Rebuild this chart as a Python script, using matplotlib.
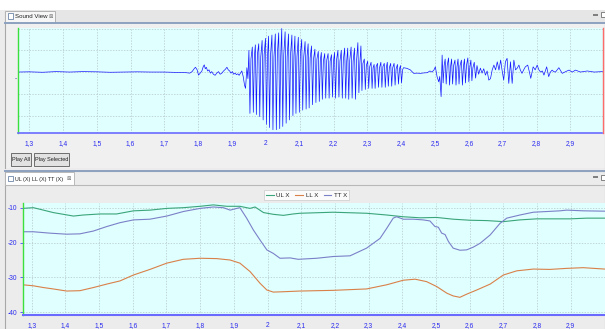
import matplotlib.pyplot as plt
from matplotlib.patches import Rectangle
from matplotlib.lines import Line2D
from matplotlib.ticker import FuncFormatter

# sound wave (seconds, amplitude in grid units)
quiet_t = [1.267, 1.30, 1.34, 1.38, 1.42, 1.46, 1.50, 1.54, 1.58, 1.62, 1.66, 1.70, 1.74]
quiet_a = [0.0, 0.01, -0.01, 0.02, 0.0, 0.02, 0.01, -0.01, 0.0, 0.01, 0.0, 0.0, -0.02]

onset_t = [1.765, 1.775, 1.782, 1.788, 1.792, 1.797, 1.801, 1.806, 1.811, 1.815,
           1.818, 1.821, 1.824, 1.828, 1.832, 1.836, 1.840, 1.845, 1.850, 1.855,
           1.860, 1.865, 1.870, 1.875, 1.880, 1.885, 1.889, 1.893, 1.897, 1.901,
           1.905, 1.909, 1.913, 1.917, 1.921, 1.925, 1.929, 1.933, 1.937, 1.940,
           1.944, 1.947]
onset_a = [-0.03, -0.05, 0.02, 0.15, 0.22, 0.1, -0.14, -0.05, 0.05, 0.25,
           0.33, 0.15, 0.22, 0.05, 0.1, -0.05, 0.02, -0.1, -0.15, -0.05,
           0.02, -0.1, -0.05, 0.05, 0.12, 0.22, 0.1, 0.05, -0.05, 0.02,
           -0.1, -0.05, -0.12, -0.08, -0.15, -0.05, 0.05, -0.2, -0.6, -0.75,
           0.2, -0.3]

vowel_t = [1.950, 1.953, 1.956, 1.960, 1.963, 1.966, 1.969, 1.972, 1.975,
           1.979, 1.982, 1.985, 1.989, 1.992, 1.995, 1.999, 2.002, 2.005,
           2.008, 2.011, 2.014, 2.018, 2.021, 2.024, 2.028, 2.031, 2.034,
           2.038, 2.041, 2.044, 2.047, 2.050, 2.053, 2.057, 2.060, 2.063,
           2.067, 2.070, 2.073, 2.077, 2.080, 2.083, 2.086, 2.089, 2.092,
           2.096, 2.099, 2.102, 2.106, 2.109, 2.112, 2.116, 2.119, 2.122,
           2.125, 2.128, 2.131, 2.135, 2.138, 2.141, 2.145, 2.148, 2.151,
           2.155, 2.158, 2.161, 2.164, 2.167, 2.170, 2.174, 2.177, 2.180,
           2.184, 2.187, 2.190, 2.194, 2.197, 2.200, 2.203, 2.206, 2.209,
           2.213, 2.216, 2.219, 2.223, 2.226, 2.229, 2.233, 2.236, 2.239,
           2.242, 2.245, 2.248, 2.252, 2.255, 2.258, 2.262, 2.265, 2.268,
           2.272, 2.275, 2.278, 2.281, 2.284, 2.287, 2.291, 2.294, 2.297,
           2.301, 2.304, 2.307, 2.311, 2.314, 2.317, 2.320, 2.323, 2.326,
           2.330, 2.333, 2.336, 2.340, 2.343, 2.346, 2.350, 2.353, 2.356,
           2.359, 2.362, 2.365, 2.369, 2.372, 2.375, 2.379, 2.382, 2.385,
           2.389, 2.392, 2.395, 2.398, 2.401, 2.404]
vowel_a = [1.0, -1.9, 0.6, 1.15, -1.85, 0.7, 1.25, -1.95, 0.8,
           1.3, -2.05, 0.7, 1.45, -2.2, 0.8, 1.55, -2.4, 0.75,
           1.65, -2.55, 0.8, 1.7, -2.65, 0.7, 1.75, -2.65, 0.8,
           1.8, -2.6, 0.75, 2.0, -2.5, 0.8, 1.85, -2.35, 0.7,
           1.75, -2.2, 0.8, 1.7, -2.0, 0.75, 1.65, -1.9, 0.7,
           1.6, -1.85, 0.8, 1.5, -1.75, 0.7, 1.4, -1.7, 0.75,
           1.3, -1.65, 0.65, 1.2, -1.5, 0.6, 1.05, -1.4, 0.6,
           0.95, -1.35, 0.55, 0.9, -1.25, 0.5, 0.85, -1.2, 0.55,
           0.85, -1.2, 0.5, 0.8, -1.15, 0.5, 0.9, -1.2, 0.55,
           1.0, -1.15, 0.5, 1.0, -1.2, 0.55, 1.1, -1.2, 0.5,
           1.1, -1.25, 0.55, 1.15, -1.2, 0.5, 1.1, -1.25, 0.5,
           1.35, -0.95, 0.45, 1.2, -0.85, 0.4, 0.6, -0.8, 0.3,
           0.5, -0.75, 0.25, 0.45, -0.75, 0.2, 0.35, -0.75, 0.25,
           0.4, -0.7, 0.2, 0.45, -0.7, 0.25, 0.4, -0.7, 0.2,
           0.45, -0.65, 0.2, 0.4, -0.65, 0.2, 0.4, -0.6, 0.15,
           0.35, -0.55, 0.15, 0.3, -0.5, 0.1]

gap_t = [2.407, 2.417, 2.427, 2.437, 2.447, 2.457, 2.467, 2.477, 2.485, 2.491,
         2.497, 2.501, 2.506, 2.511, 2.514, 2.518]
gap_a = [0.2, 0.17, 0.1, -0.06, -0.05, -0.06, -0.04, -0.03, 0.05, 0.0,
         0.1, 0.24, -0.21, -0.45, -0.2, -1.13]

burst_t = [2.521, 2.524, 2.527, 2.530, 2.533, 2.536, 2.540, 2.543, 2.546,
           2.549, 2.552, 2.555, 2.559, 2.562, 2.565, 2.568, 2.571, 2.574,
           2.578, 2.581, 2.584, 2.587, 2.590, 2.593, 2.597, 2.600, 2.603,
           2.606, 2.609, 2.612]
burst_a = [0.78, -0.5, 0.3, 0.6, -0.55, 0.3, 0.65, -0.6, 0.25,
           0.6, -0.55, 0.3, 0.55, -0.6, 0.25, 0.6, -0.55, 0.3,
           0.55, -0.6, 0.25, 0.6, -0.5, 0.3, 0.65, -0.45, 0.25,
           0.55, -0.4, 0.2]

tail_t = [2.616, 2.620, 2.624, 2.629, 2.634, 2.639, 2.644, 2.649, 2.654, 2.659,
          2.664, 2.669, 2.674, 2.679, 2.684, 2.689, 2.694, 2.698, 2.703, 2.708,
          2.713, 2.718, 2.723, 2.728, 2.733, 2.738, 2.743, 2.748, 2.752, 2.757,
          2.762, 2.767, 2.774, 2.779, 2.783, 2.790, 2.796, 2.802, 2.807, 2.812,
          2.817, 2.822, 2.830, 2.836, 2.841, 2.846, 2.851, 2.856, 2.866, 2.876,
          2.886, 2.896, 2.906, 2.915, 2.930, 2.950, 2.970, 2.995]
tail_a = [0.45, -0.28, 0.3, -0.1, 0.18, -0.05, 0.15, -0.14, 0.05, -0.37,
          -0.3, 0.1, 0.32, 0.1, 0.47, 0.09, 0.55, 0.1, -0.37, 0.47,
          0.63, -0.52, 0.47, -0.52, 0.55, 0.1, 0.18, 0.32, 0.1, -0.06,
          0.1, 0.24, 0.32, 0.0, -0.29, 0.24, 0.1, 0.32, 0.1, 0.0,
          0.05, -0.14, 0.24, -0.21, 0.0, 0.09, 0.02, 0.0, 0.2, -0.06,
          0.02, 0.09, 0.0, 0.09, 0.0, 0.05, 0.0, 0.02]

# articulator traces
ul_t = [1.273, 1.305, 1.335, 1.364, 1.394, 1.424, 1.453, 1.503, 1.552, 1.602,
        1.651, 1.701, 1.750, 1.800, 1.839, 1.879, 1.918, 1.948, 1.963, 1.988,
        2.017, 2.047, 2.076, 2.096, 2.195, 2.294, 2.354, 2.403, 2.453, 2.502,
        2.551, 2.601, 2.651, 2.700, 2.749, 2.799, 2.848, 2.898, 2.947, 3.001]
ul_x = [-10.2, -10.0, -10.7, -11.4, -11.9, -12.4, -12.1, -11.8, -11.8, -10.9,
        -10.7, -10.2, -10.0, -9.6, -9.2, -9.6, -9.6, -10.2, -9.8, -11.4,
        -11.9, -12.2, -11.8, -11.6, -11.3, -11.6, -12.1, -12.6, -12.9, -12.8,
        -13.3, -13.6, -13.7, -14.0, -13.5, -13.2, -13.2, -13.2, -13.0, -13.0]

ll_t = [1.273, 1.305, 1.335, 1.364, 1.404, 1.443, 1.483, 1.523, 1.562, 1.602,
        1.651, 1.701, 1.750, 1.800, 1.849, 1.889, 1.918, 1.948, 1.978, 1.998,
        2.017, 2.047, 2.096, 2.195, 2.294, 2.354, 2.403, 2.438, 2.472, 2.502,
        2.532, 2.551, 2.571, 2.591, 2.621, 2.661, 2.700, 2.740, 2.789, 2.838,
        2.888, 2.937, 3.001]
ll_x = [-32.1, -32.4, -32.9, -33.3, -33.9, -33.8, -32.9, -31.9, -31.0, -29.3,
        -27.7, -25.9, -24.8, -24.5, -24.6, -25.0, -25.9, -28.3, -31.7, -33.6,
        -34.2, -34.1, -33.9, -33.7, -33.3, -32.1, -30.8, -30.5, -31.2, -32.6,
        -34.5, -35.3, -35.7, -34.8, -33.6, -31.9, -29.3, -28.1, -27.6, -27.7,
        -27.4, -27.2, -27.6]

tt_t = [1.273, 1.305, 1.354, 1.404, 1.443, 1.483, 1.523, 1.562, 1.602, 1.651,
        1.701, 1.750, 1.800, 1.839, 1.869, 1.889, 1.909, 1.918, 1.938, 1.958,
        1.978, 1.998, 2.017, 2.037, 2.067, 2.091, 2.146, 2.195, 2.245, 2.294,
        2.334, 2.354, 2.373, 2.383, 2.403, 2.433, 2.462, 2.482, 2.497, 2.507,
        2.517, 2.527, 2.537, 2.551, 2.571, 2.591, 2.611, 2.631, 2.661, 2.690,
        2.710, 2.749, 2.789, 2.829, 2.868, 2.888, 2.937, 3.001]
tt_x = [-16.9, -16.9, -17.3, -17.6, -17.5, -16.7, -15.4, -14.3, -13.5, -13.3,
        -12.4, -11.1, -10.2, -9.8, -10.0, -10.7, -10.2, -10.0, -13.0, -16.4,
        -19.3, -22.1, -23.1, -24.5, -24.4, -24.8, -24.5, -24.0, -23.8, -21.6,
        -18.8, -15.9, -13.0, -12.6, -13.3, -13.3, -13.5, -13.8, -15.4, -15.6,
        -17.3, -17.7, -19.7, -21.6, -22.2, -22.1, -21.3, -20.2, -17.8, -14.5,
        -13.0, -12.1, -11.3, -11.1, -10.9, -10.7, -10.9, -11.0]

time_ticks = [1.3, 1.4, 1.5, 1.6, 1.7, 1.8, 1.9, 2.0, 2.1, 2.2, 2.3, 2.4, 2.5, 2.6, 2.7, 2.8, 2.9]
wave_grid = [-2, -1, 0, 1, 2]
pos_ticks = [-10, -20, -30, -40]

W, H = 605, 329
BG = '#ececec'
PLOT_BG = '#e0ffff'
BLUE_TXT = '#2b2bf0'
GRID = '#b4c6c6'
plt.rcParams['font.family'] = ['Liberation Sans', 'DejaVu Sans']

fig = plt.figure(figsize=(W / 100, H / 100), dpi=100)
fig.patch.set_facecolor(BG)


def rect(x, y, w, h):
    return [x / W, 1 - (y + h) / H, w / W, h / H]


def box(x, y, w, h, fc, ec='none', lw=0.8, z=-5):
    fig.patches.append(Rectangle((x / W, 1 - (y + h) / H), w / W, h / H,
                                 transform=fig.transFigure, facecolor=fc,
                                 edgecolor=ec, linewidth=lw, zorder=z))


def hline(y, x0, x1, color, lw=1.0):
    fig.add_artist(Line2D([x0 / W, x1 / W], [1 - y / H, 1 - y / H], color=color, lw=lw, zorder=-4))


def comma(v, pos):
    return f'{v:g}'.replace('.', ',')


# window chrome
box(0, 0, W, 10, 'white')
box(5, 10.5, 600, 158, '#f0f0f0', '#a8a8a8', 0.8)
box(5, 10.5, 600, 12, '#e6e6e6')
box(5, 11, 50, 11.5, '#f6f6f6', '#a8a8a8', 0.6, z=-4.5)
hline(22.8, 5, W, '#8da2c0', 1.4)
box(8, 13.5, 5, 5.5, 'white', '#6d86a8', 0.6, z=-4)
fig.text(15 / W, 1 - 17 / H, 'Sound View', fontsize=4.4, va='center', color='#202020')
fig.text(50.5 / W, 1 - 16.8 / H, '\u22a0', fontsize=3.8, va='center', ha='center',
         color='#707070', family='DejaVu Sans')
box(593, 13.5, 5, 2, '#808080', z=-4)
box(601, 12, 5, 5, 'white', '#707070', 0.6, z=-4)

box(0, 168.5, W, 3, BG)
box(5, 171, 600, 160, BG, '#a8a8a8', 0.8)
hline(171, 5, W, '#8da2c0', 1.4)
box(5, 172, 69, 13, 'white', '#b0b0b0', 0.6, z=-4.5)
hline(185.3, 5, W, '#b8b8b8', 0.8)
box(8, 175.5, 5, 5.5, 'white', '#6d86a8', 0.6, z=-4)
fig.text(15 / W, 1 - 179 / H, 'UL (X) LL (X) TT (X)', fontsize=3.9, va='center', color='#202020')
fig.text(69 / W, 1 - 178.8 / H, '\u22a0', fontsize=3.8, va='center', ha='center',
         color='#707070', family='DejaVu Sans')
box(593, 176, 5, 2, '#808080', z=-4)
box(601, 174.5, 5, 5, 'white', '#707070', 0.6, z=-4)

# buttons
box(10.5, 153.5, 20.5, 12.5, '#e2e2e2', '#6e6e6e', 0.7, z=-4)
fig.text(20.7 / W, 1 - 159.8 / H, 'Play All', fontsize=4.0, ha='center', va='center', color='#202020')
box(34, 153.5, 35, 12.5, '#e2e2e2', '#6e6e6e', 0.7, z=-4)
fig.text(51.5 / W, 1 - 159.8 / H, 'Play Selected', fontsize=4.0, ha='center', va='center', color='#202020')

# sound view
ax1 = fig.add_axes(rect(18, 28.3, 584.5, 104.7))
ax1.set_facecolor(PLOT_BG)
wave_t = quiet_t + onset_t + vowel_t + gap_t + burst_t + tail_t
wave_a = quiet_a + onset_a + vowel_a + gap_a + burst_a + tail_a
ax1.plot(wave_t, wave_a, color='#1414ff', lw=0.5)
ax1.set_xlim(1.2675, 2.995)
ax1.set_ylim(-2.80, 2.01)
ax1.set_xticks(time_ticks)
ax1.xaxis.set_major_formatter(FuncFormatter(comma))
ax1.set_yticks(wave_grid)
ax1.set_yticklabels([])
ax1.tick_params(axis='both', length=0)
ax1.tick_params(axis='x', labelsize=4.8, labelcolor=BLUE_TXT, pad=5)
ax1.grid(True, color=GRID, linestyle=(0, (2, 2)), lw=0.5)
ax1.set_axisbelow(True)
ax1.spines['top'].set_visible(False)
ax1.spines['left'].set_color('#3ce03c')
ax1.spines['left'].set_linewidth(1.0)
ax1.spines['right'].set_color('#ff6a6a')
ax1.spines['right'].set_linewidth(1.0)
ax1.spines['bottom'].set_color('#6a6aff')
ax1.spines['bottom'].set_linewidth(1.2)
fig.text(16 / W, 1 - 80 / H, '\u2022', fontsize=2.5, ha='center', va='center',
         color='#101080', family='DejaVu Sans')

# articulator view
ax2 = fig.add_axes(rect(22.7, 202.7, 582.3, 112.3))
ax2.set_facecolor(PLOT_BG)
ax2.plot(ul_t, ul_x, color='#3aa57a', lw=0.8, label='UL X')
ax2.plot(ll_t, ll_x, color='#d98048', lw=0.8, label='LL X')
ax2.plot(tt_t, tt_x, color='#7b80c8', lw=0.8, label='TT X')
ax2.set_xlim(1.2733, 3.0017)
ax2.set_ylim(-40.77, -8.57)
ax2.set_xticks(time_ticks)
ax2.xaxis.set_major_formatter(FuncFormatter(comma))
ax2.set_yticks(pos_ticks)
ax2.yaxis.set_major_formatter(FuncFormatter(comma))
ax2.tick_params(axis='x', length=0, labelsize=4.8, labelcolor=BLUE_TXT, pad=5)
ax2.tick_params(axis='y', length=2.5, width=0.6, color='#4a4aff', labelsize=4.8,
                labelcolor=BLUE_TXT, pad=1.5)
ax2.grid(True, color=GRID, linestyle=(0, (2, 2)), lw=0.5)
ax2.set_axisbelow(True)
ax2.spines['top'].set_visible(False)
ax2.spines['right'].set_visible(False)
ax2.spines['left'].set_color('#3ce03c')
ax2.spines['left'].set_linewidth(1.0)
ax2.spines['bottom'].set_color('#6a6aff')
ax2.spines['bottom'].set_linewidth(1.5)
leg = ax2.legend(loc='center', bbox_to_anchor=(306.5 / W, 1 - 195 / H),
                 bbox_transform=fig.transFigure, ncol=3, fontsize=4.4,
                 frameon=True, fancybox=False, edgecolor='#c8c8c8',
                 handlelength=1.3, handletextpad=0.4, columnspacing=0.9,
                 borderpad=0.35, borderaxespad=0)
leg.get_frame().set_linewidth(0.6)
for txt in leg.get_texts():
    txt.set_color('#202020')

fig.savefig('out.png', dpi=100, facecolor=fig.get_facecolor())
